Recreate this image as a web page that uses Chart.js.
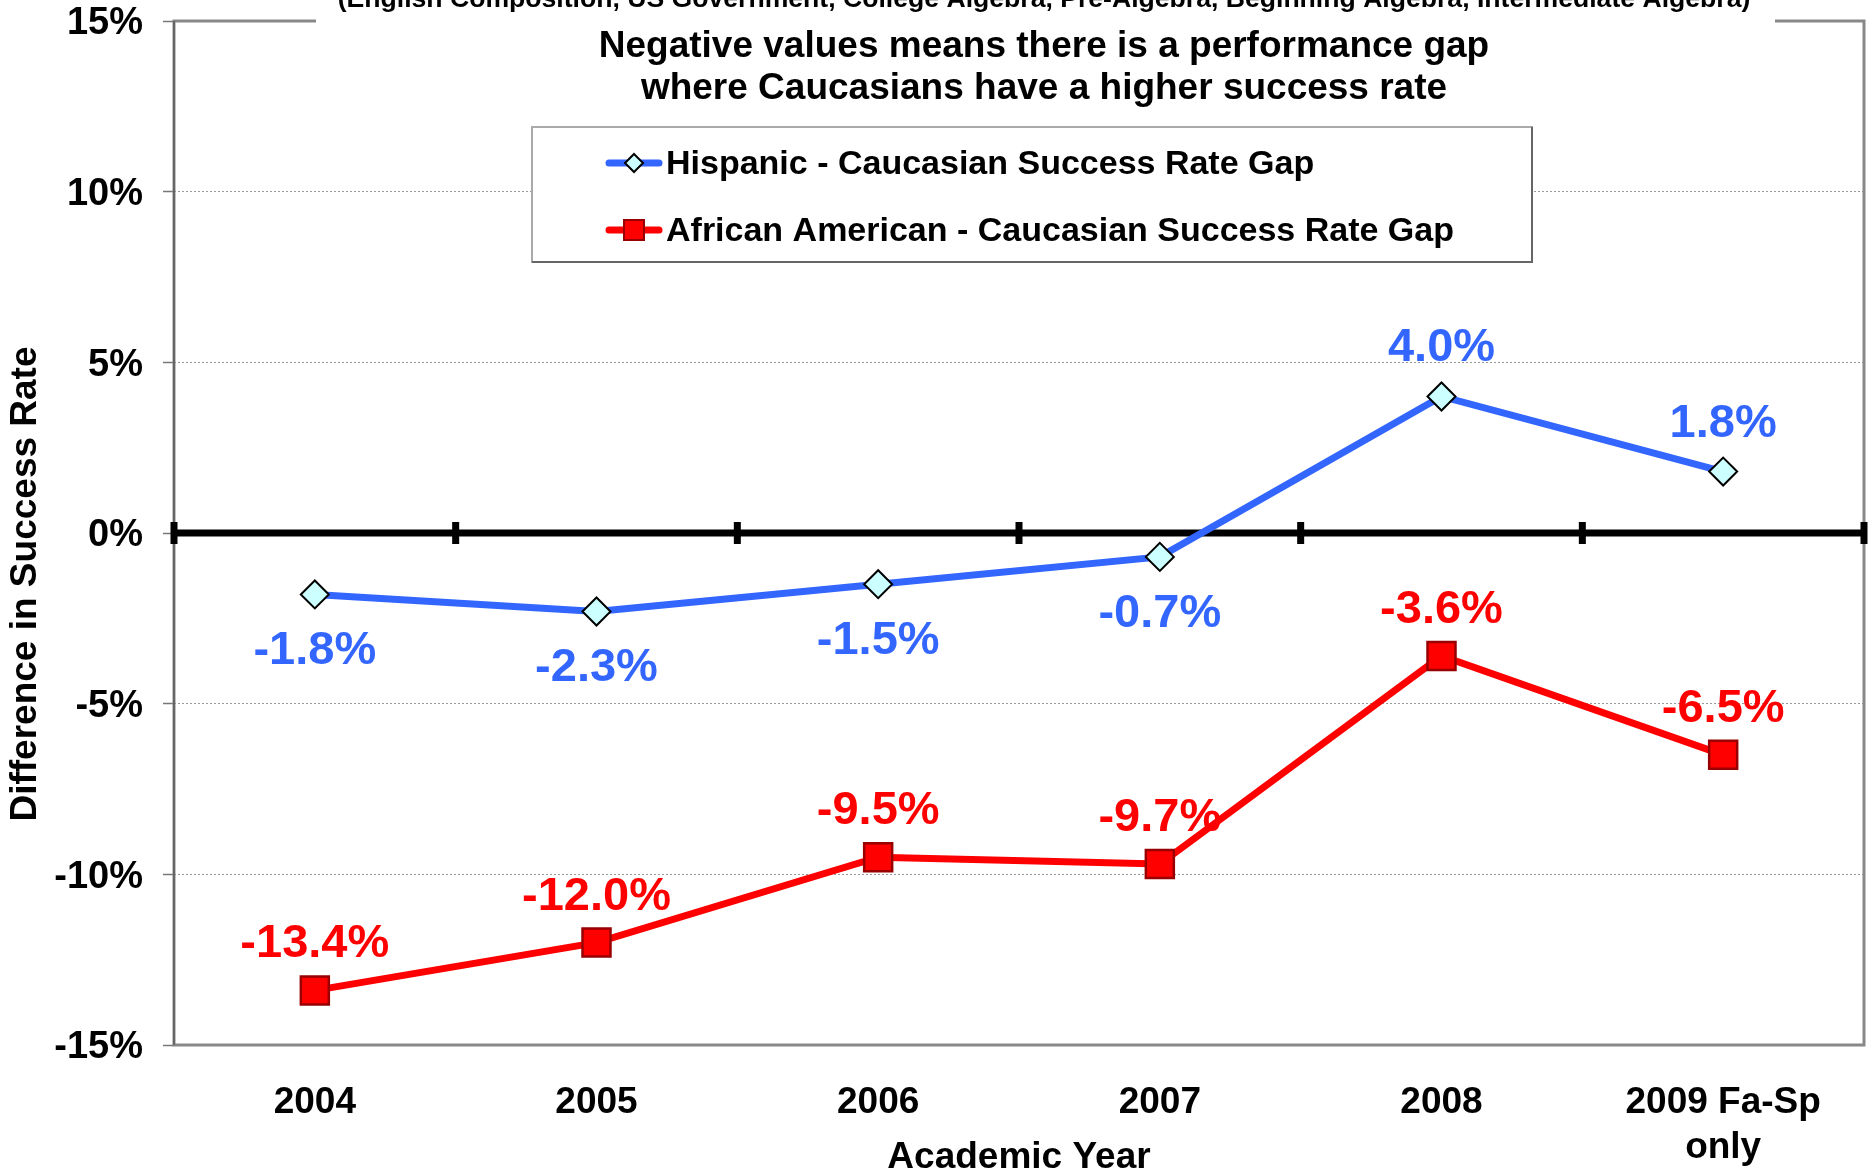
<!DOCTYPE html>
<html>
<head>
<meta charset="utf-8">
<script src="https://cdn.jsdelivr.net/npm/chart.js@4.4.0/dist/chart.umd.min.js"></script>
<style>
  html, body { margin: 0; padding: 0; background: #fff; overflow: hidden; }
</style>
</head>
<body>
<canvas id="grafico" width="1868" height="1173"></canvas>
<script>
const anos = ['2004', '2005', '2006', '2007', '2008', ['2009 Fa-Sp', 'only']];
const hispanico = [-1.8, -2.3, -1.5, -0.7, 4.0, 1.8];
const afroAmericano = [-13.4, -12.0, -9.5, -9.7, -3.6, -6.5];
const ticksY = [-15, -10, -5, 0, 5, 10, 15];
const nomesSeries = ['Hispanic - Caucasian Success Rate Gap', 'African American - Caucasian Success Rate Gap'];
const subtitulo = '(English Composition, US Government, College Algebra, Pre-Algebra, Beginning Algebra, Intermediate Algebra)';
const nota = ['Negative values means there is a performance gap', 'where Caucasians have a higher success rate'];

const FONTE = '"Liberation Sans", Arial, sans-serif';
const AZUL = '#3366FF';
const VERMELHO = '#FF0000';

// moldura da área do gráfico + linha do zero com as marquinhas
const moldura = {
    id: 'moldura',
    beforeDatasetsDraw(chart) {
        const { ctx, chartArea: a, scales: { x, y } } = chart;
        ctx.save();
        ctx.strokeStyle = '#888';
        ctx.lineWidth = 3;
        ctx.strokeRect(a.left, a.top, a.right - a.left, a.bottom - a.top);
        ctx.strokeStyle = '#666';
        ctx.lineWidth = 2;
        ctx.beginPath();
        ctx.moveTo(a.left, a.top);
        ctx.lineTo(a.left, a.bottom);
        ctx.stroke();

        const y0 = y.getPixelForValue(0);
        ctx.fillStyle = '#000';
        ctx.fillRect(a.left, y0 - 3.5, a.right - a.left, 7);
        const passo = x.getPixelForValue(1) - x.getPixelForValue(0);
        const inicio = x.getPixelForValue(0) - passo / 2;
        for (let i = 0; i <= anos.length; i++) {
            ctx.fillRect(inicio + i * passo - 3.5, y0 - 11, 7, 22);
        }
        ctx.restore();
    }
};

// rótulos de valor em cima / embaixo dos pontos
const rotulos = {
    id: 'rotulos',
    afterDatasetsDraw(chart) {
        const ctx = chart.ctx;
        ctx.save();
        ctx.font = 'bold 47px ' + FONTE;
        ctx.textAlign = 'center';
        ctx.textBaseline = 'middle';
        chart.data.datasets.forEach((ds, i) => {
            const meta = chart.getDatasetMeta(i);
            ctx.fillStyle = ds.borderColor;
            meta.data.forEach((pt, j) => {
                const v = ds.data[j];
                let yy;
                if (ds.rotuloEmbaixoSeNegativo) {
                    yy = v < 0 ? pt.y + 57 : pt.y - 48;
                } else {
                    yy = pt.y - 46;
                }
                ctx.fillText(v.toFixed(1) + '%', pt.x, yy);
            });
        });
        ctx.restore();
    }
};

// textos soltos, legenda e título do eixo y
const textos = {
    id: 'textos',
    afterDraw(chart) {
        const ctx = chart.ctx;
        ctx.save();

        // caixa do subtítulo (cortado no topo)
        ctx.fillStyle = '#fff';
        ctx.fillRect(316, 0, 1459, 26);
        ctx.fillStyle = '#000';
        ctx.textAlign = 'center';
        ctx.textBaseline = 'alphabetic';
        ctx.font = 'bold 26.6px ' + FONTE;
        ctx.fillText(subtitulo, 1044, 7);

        ctx.textBaseline = 'middle';
        ctx.font = 'bold 37px ' + FONTE;
        ctx.fillText(nota[0], 1044, 46.5);
        ctx.fillText(nota[1], 1044, 88.5);

        // legenda
        ctx.fillStyle = '#fff';
        ctx.fillRect(532, 127, 1000, 135);
        ctx.strokeStyle = '#aaa';
        ctx.lineWidth = 2;
        ctx.strokeRect(532, 127, 1000, 135);
        ctx.strokeStyle = '#666';
        ctx.beginPath();
        ctx.moveTo(532, 262);
        ctx.lineTo(1532, 262);
        ctx.lineTo(1532, 127);
        ctx.stroke();

        const linhas = [163, 230];
        chart.data.datasets.forEach((ds, i) => {
            const yy = linhas[i];
            ctx.strokeStyle = ds.borderColor;
            ctx.lineWidth = 7;
            ctx.lineCap = 'round';
            ctx.beginPath();
            ctx.moveTo(609, yy);
            ctx.lineTo(659, yy);
            ctx.stroke();
            ctx.lineWidth = 2;
            ctx.fillStyle = ds.pointBackgroundColor;
            ctx.strokeStyle = ds.pointBorderColor;
            ctx.beginPath();
            if (i === 0) {
                ctx.moveTo(634, yy - 9);
                ctx.lineTo(643, yy);
                ctx.lineTo(634, yy + 9);
                ctx.lineTo(625, yy);
                ctx.closePath();
            } else {
                ctx.rect(624, yy - 10, 20, 20);
            }
            ctx.fill();
            ctx.stroke();
            ctx.fillStyle = '#000';
            ctx.textAlign = 'left';
            ctx.textBaseline = 'middle';
            ctx.font = 'bold 34px ' + FONTE;
            ctx.fillText(ds.label, 666, yy + 2);
        });

        // título do eixo y
        ctx.translate(26, 584);
        ctx.rotate(-Math.PI / 2);
        ctx.textAlign = 'center';
        ctx.textBaseline = 'middle';
        ctx.font = 'bold 37px ' + FONTE;
        ctx.fillStyle = '#000';
        ctx.fillText('Difference in Success Rate', 0, 0);
        ctx.restore();
    }
};

function criaGrafico() {
    const canvas = document.getElementById('grafico');
    new Chart(canvas, {
        type: 'line',
        data: {
            labels: anos,
            datasets: [
                {
                    label: nomesSeries[0],
                    data: hispanico,
                    borderColor: AZUL,
                    backgroundColor: AZUL,
                    borderWidth: 7,
                    pointStyle: 'rectRot',
                    pointRadius: 14,
                    pointBackgroundColor: '#CCFFFF',
                    pointBorderColor: '#000',
                    pointBorderWidth: 2,
                    tension: 0,
                    rotuloEmbaixoSeNegativo: true
                },
                {
                    label: nomesSeries[1],
                    data: afroAmericano,
                    borderColor: VERMELHO,
                    backgroundColor: VERMELHO,
                    borderWidth: 7,
                    pointStyle: 'rect',
                    pointRadius: 19.8,
                    pointBackgroundColor: VERMELHO,
                    pointBorderColor: '#990000',
                    pointBorderWidth: 2.5,
                    tension: 0,
                    rotuloEmbaixoSeNegativo: false
                }
            ]
        },
        options: {
            responsive: false,
            devicePixelRatio: 1,
            animation: false,
            events: [],
            layout: { autoPadding: false, padding: { top: 21, right: 4, left: 0, bottom: 0 } },
            plugins: {
                legend: { display: false },
                title: { display: false },
                tooltip: { enabled: false }
            },
            scales: {
                x: {
                    offset: true,
                    grid: { display: false },
                    border: { display: false },
                    ticks: {
                        color: '#000',
                        font: { family: FONTE, size: 37, weight: 'bold', lineHeight: 1.2 },
                        padding: 28,
                        maxRotation: 0,
                        autoSkip: false
                    },
                    title: {
                        display: true,
                        text: 'Academic Year',
                        color: '#000',
                        font: { family: FONTE, size: 37, weight: 'bold' },
                        padding: { top: 0, bottom: -7 }
                    },
                    afterFit(s) {
                        s.height = 128;
                        s.paddingLeft = 0;
                        s.paddingRight = 0;
                    }
                },
                y: {
                    min: -15,
                    max: 15,
                    afterBuildTicks(s) { s.ticks = ticksY.map(v => ({ value: v })); },
                    grid: {
                        color: c => (c.tick && Math.abs(c.tick.value) % 15 !== 0) ? '#999' : 'rgba(0,0,0,0)',
                        lineWidth: 1,
                        tickLength: 11,
                        tickColor: '#777',
                        tickWidth: 1.5
                    },
                    border: { display: false, dash: [2, 2] },
                    ticks: {
                        color: '#000',
                        font: { family: FONTE, size: 38, weight: 'bold' },
                        padding: 20,
                        labelOffset: 3,
                        callback: v => v + '%'
                    },
                    afterFit(s) {
                        s.width = 174;
                        s.paddingTop = 0;
                        s.paddingBottom = 0;
                    }
                }
            }
        },
        plugins: [moldura, rotulos, textos]
    });
}

criaGrafico();
</script>
</body>
</html>
